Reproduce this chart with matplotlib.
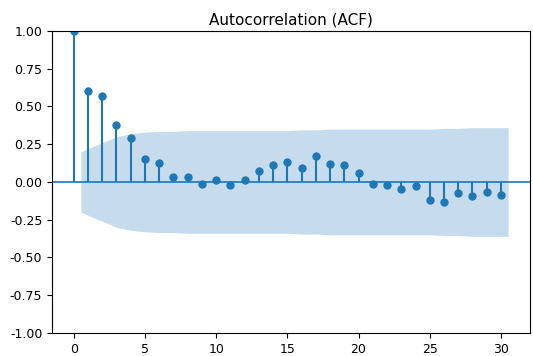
import numpy as np
import matplotlib
matplotlib.use("Agg")
import matplotlib.pyplot as plt

# 自相关系数
lags = list(range(0, 31))
acf_vals = [1.00, 0.60, 0.57, 0.38, 0.29, 0.155, 0.125, 0.03, 0.03, -0.015,
            0.01, -0.02, 0.015, 0.075, 0.115, 0.135, 0.09, 0.17, 0.12, 0.11,
            0.06, -0.015, -0.02, -0.045, -0.027, -0.12, -0.135, -0.075, -0.095, -0.065,
            -0.085]
# 置信区间半宽（滞后 1..30）
conf_half = [0.20, 0.26, 0.30, 0.32, 0.33, 0.335, 0.335, 0.34, 0.34, 0.34,
             0.34, 0.34, 0.34, 0.34, 0.34, 0.345, 0.345, 0.35, 0.35, 0.35,
             0.35, 0.35, 0.35, 0.35, 0.35, 0.355, 0.355, 0.36, 0.36, 0.36]
title = 'Autocorrelation (ACF)'

fig = plt.figure(figsize=(5.33, 3.56), dpi=100)
ax = fig.add_axes([0.0976, 0.0646, 0.8964, 0.8484])

x = np.array(lags, dtype=float)
y = np.array(acf_vals)

ax.vlines(x, 0, y, color='C0', lw=1.5)
ax.axhline(0, color='C0', lw=1.2)
ax.plot(x, y, marker='o', markersize=5, linestyle='None', color='C0')

# 置信带
band_x = x[1:].copy()
band_x[0] -= 0.5
band_x[-1] += 0.5
half = np.array(conf_half)
ax.fill_between(band_x, -half, half, alpha=0.25, color='C0', lw=0)

ax.margins(0.05)
ax.set_ylim(-1, 1)
ax.set_xticks([0, 5, 10, 15, 20, 25, 30])
ax.set_yticks([-1, -0.75, -0.5, -0.25, 0, 0.25, 0.5, 0.75, 1.0])
ax.yaxis.set_major_formatter(matplotlib.ticker.FormatStrFormatter('%.2f'))
ax.tick_params(labelsize=9)
ax.set_title(title, fontsize=11, pad=5)

fig.savefig('out.png', dpi=100)
